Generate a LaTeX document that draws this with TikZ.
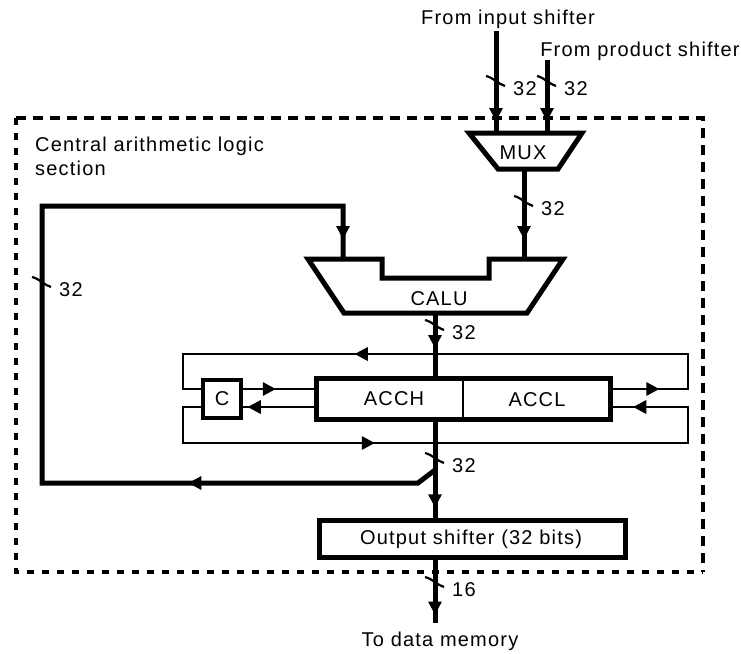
\documentclass[tikz,border=0pt]{standalone}
\usepackage{fontspec}
\setmainfont{Liberation Sans}[LetterSpace=6]
\usetikzlibrary{arrows.meta,decorations.markings,calc}
\begin{document}
\begin{tikzpicture}[x=1pt,y=-1pt,
  lbl/.style={font=\fontsize{20}{24}\selectfont, inner sep=0pt},
  bus/.style={line width=5pt},
  loopline/.style={line width=2.6pt},
  outline/.style={line width=5pt},
  tipat/.style={postaction={decorate,decoration={markings,
      mark=at position #1 with {\fill (1,0) -- (-12,-7) -- (-12,7) -- cycle;}}}},
  dashTR/.style={line width=4pt, dash pattern=on 10pt off 7pt},
  dashLB/.style={line width=4.5pt, dash pattern=on 7pt off 8pt},
  buswidth/.pic={
    \draw[line width=2.2pt] (-10,-5) .. controls (-2,-3) and (2,3) .. (9,5);
    \node[lbl,anchor=west] at (17,8) {\tikzpictext};
  }]
\useasboundingbox (0,0) rectangle (741,653);

% dashed section border
\coordinate (bTL) at (16,118);
\coordinate (bTR) at (703,118);
\coordinate (bBR) at (703,572);
\coordinate (bBL) at (16,572);
\draw[dashTR] (bTL) -- (bTR) -- (bBR);
\draw[dashLB] (bTL) -- (bBL) -- (bBR);

\node[lbl, anchor=north west, align=left] (sect) at (35,137) {Central arithmetic logic\\section};

% texts at top
\node[lbl, anchor=base] (intxt) at (508,24) {From input shifter};
\node[lbl, anchor=base] (prodtxt) at (640,56) {From product shifter};

% MUX
\draw[outline] (469,133) -- (582,133) -- (558,169) -- (498,169) -- cycle;
\node[lbl] (mux) at (523,153) {MUX};
\coordinate (muxin1) at (496,133);
\coordinate (muxin2) at (547,133);
\coordinate (muxout) at (524,169);
\coordinate (in1top) at (496,31);
\coordinate (in2top) at (547,60);

% CALU
\draw[outline] (308,259) -- (382,259) -- (382,278) -- (489,278) -- (489,259)
  -- (563,259) -- (527,313) -- (344,313) -- cycle;
\node[lbl] (calu) at (439,299) {CALU};
\coordinate (caluinL) at (343,259);
\coordinate (caluinR) at (524,259);
\coordinate (caluout) at (435,313);

% accumulator and carry
\node[draw, minimum width=38pt, minimum height=38pt, inner sep=0pt, line width=3.5pt] (c) at (222,399) {};
\node[lbl] at (c) {C};
\node[draw, line width=2.5pt, minimum width=145pt, minimum height=38pt, inner sep=0pt] (acch) at (390.5,399) {};
\node[draw, line width=2.5pt, minimum width=146pt, minimum height=38pt, inner sep=0pt] (accl) at (536,399) {};
\node[lbl] at (394,399) {ACCH};
\node[lbl] at (537,400) {ACCL};
\draw[outline] (acch.north west) rectangle (accl.south east);

% output shifter
\node[draw, outline, minimum width=306pt, minimum height=37pt, inner sep=0pt] (outsh) at (472,538.5) {};
\node[lbl] at (471,539) {Output shifter (32 bits)};

\node[lbl, anchor=base] (todm) at (440,646) {To data memory};
\coordinate (outend) at (435,623);

% bus connectors
\draw[bus, tipat=89pt] (in1top) -- (muxin1);
\draw[bus, tipat=60pt] (in2top) -- (muxin2);
\draw[bus, tipat=69pt] (muxout) -- (caluinR);
\draw[bus, tipat=34pt] (caluout) -- (caluout |- acch.north);
\draw[bus, tipat=87pt] (caluout |- acch.south) -- (caluout |- outsh.north);
\draw[bus, tipat=54pt] (caluout |- outsh.south) -- (outend);

% feedback
\coordinate (br) at (435,470);
\coordinate (fb1) at (418,483);
\coordinate (fb2) at (42,483);
\coordinate (fb3) at (42,206);
\coordinate (fb4) at (343,206);
\draw[bus, tipat=250pt, tipat=-21pt] (br) -- (fb1) -- (fb2) -- (fb3) -- (fb4) -- (caluinL);

% accumulator loops
\coordinate (u1) at (688,389);
\coordinate (u2) at (688,354);
\coordinate (u3) at (183,354);
\coordinate (u4) at (183,389);
\draw[loopline, tipat=48pt, tipat=445pt] ($(accl.east)+(0,-10)$) -- (u1) -- (u2) -- (u3) -- (u4) -- ($(c.west)+(0,-10)$);
\coordinate (l1) at (183,407);
\coordinate (l2) at (183,443);
\coordinate (l3) at (688,443);
\coordinate (l4) at (688,407);
\draw[loopline, tipat=245pt, tipat=-24pt] ($(c.west)+(0,8)$) -- (l1) -- (l2) -- (l3) -- (l4) -- ($(accl.east)+(0,8)$);
\draw[loopline, tipat=32pt] ($(c.east)+(0,-10)$) -- ($(acch.west)+(0,-10)$);
\draw[loopline, tipat=68pt] ($(acch.west)+(0,8)$) -- ($(c.east)+(0,8)$);

% bus width marks
\pic[pic text=32] at (496,81) {buswidth};
\pic[pic text=32] at (547,81) {buswidth};
\pic[pic text=32] at (524,201) {buswidth};
\pic[pic text=32] at (42,282) {buswidth};
\pic[pic text=32] at (435,325) {buswidth};
\pic[pic text=32] at (435,458) {buswidth};
\pic[pic text=16] at (435,582) {buswidth};
\end{tikzpicture}
\end{document}
